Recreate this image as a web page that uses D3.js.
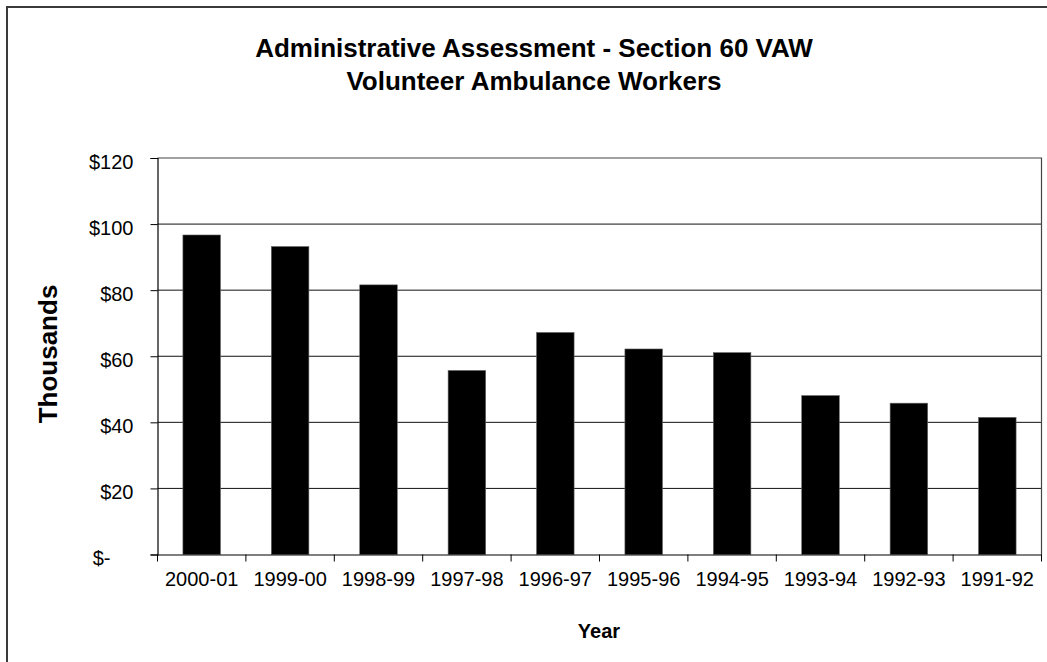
<!DOCTYPE html>
<html>
<head>
<meta charset="utf-8">
<script src="https://cdn.jsdelivr.net/npm/d3@7"></script>
<style>
  html, body { margin: 0; padding: 0; background: #fff; }
  svg { display: block; font-family: "Liberation Sans", Arial, sans-serif; }
</style>
</head>
<body>
<svg id="chart" width="1047" height="662"></svg>
<script>
// Fiscal years, newest first
const years = ["2000-01", "1999-00", "1998-99", "1997-98", "1996-97",
               "1995-96", "1994-95", "1993-94", "1992-93", "1991-92"];
// Assessment amounts, in thousands of dollars
const amounts = [96.7, 93.2, 81.6, 55.7, 67.2, 62.2, 61.1, 48.1, 45.8, 41.5];
// Value axis ticks
const yTicks = [0, 20, 40, 60, 80, 100, 120];
const titleLines = ["Administrative Assessment - Section 60 VAW", "Volunteer Ambulance Workers"];

const svg = d3.select("#chart");
const plot = { left: 157.5, right: 1041.5, top: 158, bottom: 554.5 };

const x = d3.scaleBand()
  .domain(years)
  .range([plot.left, plot.right])
  .paddingInner(0.575)
  .paddingOuter(0.2875);

const y = d3.scaleLinear()
  .domain([0, 120])
  .range([plot.bottom, plot.top]);

// Outer chart frame
svg.append("rect")
  .attr("x", 7).attr("y", 7)
  .attr("width", 1100).attr("height", 700)
  .attr("fill", "none").attr("stroke", "#3a3a3a").attr("stroke-width", 2);

// Horizontal gridlines
svg.append("g")
  .selectAll("line")
  .data(yTicks.filter(d => d > 0 && d < 120))
  .join("line")
  .attr("x1", plot.left).attr("x2", plot.right)
  .attr("y1", d => y(d)).attr("y2", d => y(d))
  .attr("stroke", "#111").attr("stroke-width", 1);

// Plot area border (top and right)
svg.append("path")
  .attr("d", `M${plot.left},${y(120)}H${plot.right}V${plot.bottom}`)
  .attr("fill", "none").attr("stroke", "#444").attr("stroke-width", 1.2);

// Bars
svg.append("g")
  .selectAll("rect")
  .data(years.map((yr, i) => ({ yr, v: amounts[i] })))
  .join("rect")
  .attr("x", d => x(d.yr))
  .attr("y", d => y(d.v))
  .attr("width", x.bandwidth())
  .attr("height", d => y(0) - y(d.v))
  .attr("fill", "#000")
  .attr("stroke", "#666").attr("stroke-width", 0.6);

// Value axis
const yAxis = d3.axisLeft(y)
  .tickValues(yTicks)
  .tickSize(7)
  .tickPadding(17)
  .tickFormat(d => d === 0 ? "$-" : "$" + d);

const gy = svg.append("g")
  .attr("transform", `translate(${plot.left},0)`)
  .call(yAxis);
gy.select(".domain").attr("stroke", "#000").attr("stroke-width", 1.2);
gy.selectAll(".tick line").attr("stroke", "#000");
gy.selectAll(".tick text")
  .attr("font-size", 20)
  .attr("fill", "#000")
  .attr("font-family", "'Liberation Sans', Arial, sans-serif")
  .attr("dy", "0.5em")
  .attr("dx", d => d === 0 ? -23 : 0);

// Category axis
const xAxis = d3.axisBottom(x).tickSize(0).tickPadding(17);
const gx = svg.append("g")
  .attr("transform", `translate(0,${plot.bottom})`)
  .call(xAxis);
gx.select(".domain").attr("stroke", "#000").attr("stroke-width", 1.2);
gx.selectAll(".tick text")
  .attr("font-size", 20)
  .attr("fill", "#000")
  .attr("font-family", "'Liberation Sans', Arial, sans-serif");

// Tick marks between categories
const step = x.step();
const boundaries = d3.range(years.length + 1).map(i => plot.left + i * step);
gx.append("g")
  .selectAll("line")
  .data(boundaries)
  .join("line")
  .attr("x1", d => d).attr("x2", d => d)
  .attr("y1", 0).attr("y2", 7)
  .attr("stroke", "#000");

// Titles
svg.append("g")
  .selectAll("text")
  .data(titleLines)
  .join("text")
  .attr("x", 534)
  .attr("y", (d, i) => 57 + i * 33)
  .attr("text-anchor", "middle")
  .attr("font-size", 26)
  .attr("font-weight", "bold")
  .text(d => d);

// Axis titles
svg.append("text")
  .attr("transform", `translate(57,354) rotate(-90)`)
  .attr("text-anchor", "middle")
  .attr("font-size", 26)
  .attr("font-weight", "bold")
  .text("Thousands");

svg.append("text")
  .attr("x", 599)
  .attr("y", 638)
  .attr("text-anchor", "middle")
  .attr("font-size", 20)
  .attr("font-weight", "bold")
  .text("Year");
</script>
</body>
</html>
